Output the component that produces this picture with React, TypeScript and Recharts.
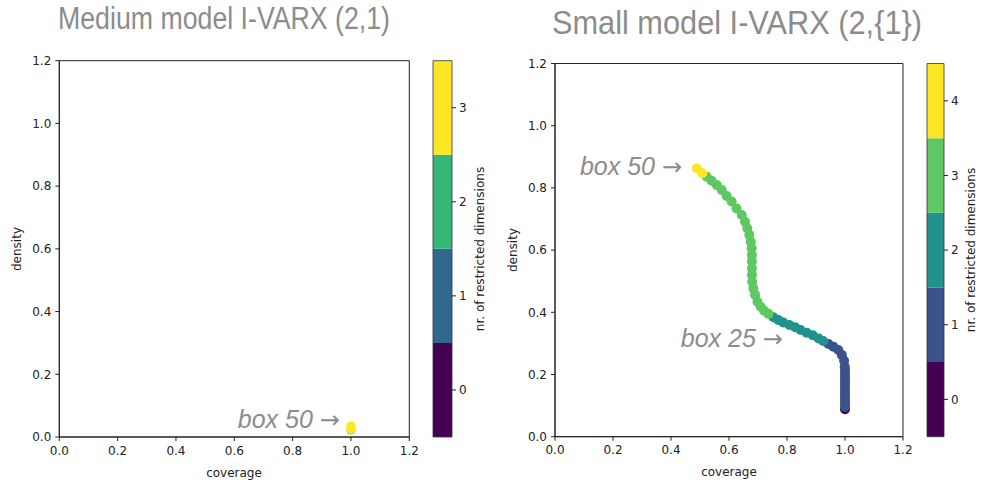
import React from 'react';
import { ScatterChart, Scatter, XAxis, YAxis, ReferenceArea, ReferenceDot } from 'recharts';

// ---- shared axis settings ----
const axisTicks = [0, 0.2, 0.4, 0.6, 0.8, 1.0, 1.2];

// ---- Medium model I-VARX (2,1): peeling trajectory ----
const mediumLevels = [0, 1, 2, 3];
const mediumColors = ['#440154', '#31688e', '#35b779', '#fde725'];
const mediumDims0: { coverage: number; density: number }[] = [];
const mediumDims1: { coverage: number; density: number }[] = [];
const mediumDims2 = [{ coverage: 1.0, density: 0.022 }];
const mediumDims3 = [
  { coverage: 1.0, density: 0.024 },
  { coverage: 1.0, density: 0.028 },
  { coverage: 1.0, density: 0.032 },
  { coverage: 1.0, density: 0.036 },
];

// ---- Small model I-VARX (2,{1}): peeling trajectory ----
const smallLevels = [0, 1, 2, 3, 4];
const smallColors = ['#440154', '#3b528b', '#21918c', '#5ec962', '#fde725'];
const smallDims0 = [{ coverage: 1.0, density: 0.088 }];
const smallDims1 = [
  { coverage: 1.0, density: 0.096 },
  { coverage: 1.0, density: 0.107 },
  { coverage: 1.0, density: 0.118 },
  { coverage: 1.0, density: 0.129 },
  { coverage: 1.0, density: 0.14 },
  { coverage: 1.0, density: 0.15 },
  { coverage: 1.0, density: 0.161 },
  { coverage: 1.0, density: 0.172 },
  { coverage: 1.0, density: 0.182 },
  { coverage: 1.0, density: 0.193 },
  { coverage: 1.0, density: 0.204 },
  { coverage: 1.0, density: 0.215 },
  { coverage: 0.999, density: 0.225 },
  { coverage: 0.997, density: 0.244 },
  { coverage: 0.989, density: 0.263 },
  { coverage: 0.977, density: 0.279 },
  { coverage: 0.96, density: 0.289 },
  { coverage: 0.943, density: 0.298 },
];
const smallDims2 = [
  { coverage: 0.925, density: 0.308 },
  { coverage: 0.909, density: 0.316 },
  { coverage: 0.889, density: 0.326 },
  { coverage: 0.868, density: 0.334 },
  { coverage: 0.847, density: 0.343 },
  { coverage: 0.828, density: 0.352 },
  { coverage: 0.808, density: 0.359 },
  { coverage: 0.787, density: 0.367 },
  { coverage: 0.77, density: 0.375 },
  { coverage: 0.753, density: 0.384 },
];
const smallDims3 = [
  { coverage: 0.736, density: 0.395 },
  { coverage: 0.721, density: 0.405 },
  { coverage: 0.709, density: 0.418 },
  { coverage: 0.698, density: 0.434 },
  { coverage: 0.69, density: 0.456 },
  { coverage: 0.684, density: 0.477 },
  { coverage: 0.68, density: 0.498 },
  { coverage: 0.679, density: 0.52 },
  { coverage: 0.679, density: 0.541 },
  { coverage: 0.679, density: 0.563 },
  { coverage: 0.679, density: 0.584 },
  { coverage: 0.678, density: 0.606 },
  { coverage: 0.675, density: 0.627 },
  { coverage: 0.67, density: 0.649 },
  { coverage: 0.663, density: 0.67 },
  { coverage: 0.655, density: 0.691 },
  { coverage: 0.644, density: 0.713 },
  { coverage: 0.626, density: 0.734 },
  { coverage: 0.609, density: 0.756 },
  { coverage: 0.592, density: 0.774 },
  { coverage: 0.575, density: 0.793 },
  { coverage: 0.558, density: 0.809 },
  { coverage: 0.54, density: 0.823 },
  { coverage: 0.523, density: 0.836 },
];
const smallDims4 = [
  { coverage: 0.508, density: 0.847 },
  { coverage: 0.489, density: 0.863 },
];

// annotation anchors (arrow tips), in data units
const mediumNotes = [{ text: 'box 50', coverage: 0.962, density: 0.029 }];
const smallNotes = [
  { text: 'box 50', coverage: 0.438, density: 0.841 },
  { text: 'box 25', coverage: 0.786, density: 0.288 },
];

const W = 981;
const H = 482;
const tickFont = { fontSize: 12, fill: '#222', fontFamily: 'DejaVu Sans' };
const titleColor = '#8c8c8c';

type Pt = { coverage: number; density: number };

const dotShape = (r: number, color: string) => (p: any) =>
  <circle cx={p.cx} cy={p.cy} r={r} fill={color} />;

const noteShape = (text: string) => (p: any) => (
  <text
    x={p.cx}
    y={p.cy}
    textAnchor="end"
    fontFamily="Liberation Sans"
    fontSize={25}
    fill={titleColor}
  >
    <tspan fontStyle="italic">{text + ' '}</tspan>
    <tspan fontFamily="DejaVu Sans" fontSize={24}>→</tspan>
  </text>
);

function Panel({
  box,
  series,
  colors,
  notes,
  r,
}: {
  box: { x0: number; x1: number; y0: number; y1: number };
  series: Pt[][];
  colors: string[];
  notes: { text: string; coverage: number; density: number }[];
  r: number;
}) {
  return (
    <div style={{ position: 'absolute', left: 0, top: 0 }}>
      <ScatterChart
        width={W}
        height={H}
        margin={{ top: box.y0, right: W - box.x1, bottom: 0, left: 0 }}
      >
        <XAxis
          type="number"
          dataKey="coverage"
          domain={[0, 1.2]}
          ticks={axisTicks}
          interval={0}
          tickFormatter={(v: number) => v.toFixed(1)}
          height={H - box.y1}
          tickSize={4}
          tickMargin={5}
          tick={tickFont}
          stroke="#222"
          tickLine={{ stroke: '#222' }}
        />
        <YAxis
          type="number"
          dataKey="density"
          domain={[0, 1.2]}
          ticks={axisTicks}
          interval={0}
          tickFormatter={(v: number) => v.toFixed(1)}
          width={box.x0}
          tickSize={4}
          tickMargin={4}
          tick={tickFont}
          stroke="#222"
          tickLine={{ stroke: '#222' }}
        />
        <ReferenceArea x1={0} x2={1.2} y1={0} y2={1.2} fill="none" stroke="#222" strokeWidth={1} />
        {series.map((data, i) => (
          <Scatter
            key={i}
            data={data}
            fill={colors[i]}
            shape={dotShape(r, colors[i])}
            isAnimationActive={false}
          />
        ))}
        {notes.map((n, i) => (
          <ReferenceDot key={i} x={n.coverage} y={n.density} r={0} shape={noteShape(n.text)} />
        ))}
      </ScatterChart>
    </div>
  );
}

function ColorBar({
  box,
  levels,
  colors,
}: {
  box: { x0: number; x1: number; y0: number; y1: number };
  levels: number[];
  colors: string[];
}) {
  const lo = levels[0] - 0.5;
  const hi = levels[levels.length - 1] + 0.5;
  const anchors = levels.map((lv) => ({ x: 0.5, level: lv }));
  return (
    <div style={{ position: 'absolute', left: 0, top: 0 }}>
      <ScatterChart
        width={W}
        height={H}
        margin={{ top: box.y0, right: 0, bottom: H - box.y1, left: box.x0 }}
      >
        <XAxis type="number" dataKey="x" domain={[0, 1]} hide />
        <YAxis
          type="number"
          dataKey="level"
          orientation="right"
          domain={[lo, hi]}
          ticks={levels}
          interval={0}
          width={W - box.x1}
          axisLine={false}
          tickSize={4}
          tickMargin={3}
          tick={tickFont}
          tickLine={{ stroke: '#222' }}
        />
        {levels.map((lv, i) => (
          <ReferenceArea
            key={lv}
            x1={0}
            x2={1}
            y1={lv - 0.5}
            y2={lv + 0.5}
            fill={colors[i]}
            fillOpacity={1}
            stroke="none"
          />
        ))}
        <ReferenceArea x1={0} x2={1} y1={lo} y2={hi} fill="none" stroke="#333" strokeWidth={0.8} />
        <Scatter data={anchors} shape={() => <g />} isAnimationActive={false} />
      </ScatterChart>
    </div>
  );
}

const labelStyle = { fontFamily: 'DejaVu Sans', fontSize: 12, fill: '#222' };

export default function App() {
  const leftBox = { x0: 59.3, x1: 409.3, y0: 60.7, y1: 437 };
  const rightBox = { x0: 555, x1: 903, y0: 63.5, y1: 436.7 };
  return (
    <div style={{ position: 'absolute', left: 0, top: 0, width: W, height: H, background: '#fff' }}>
      <Panel
        box={leftBox}
        series={[mediumDims0, mediumDims1, mediumDims2, mediumDims3]}
        colors={mediumColors}
        notes={mediumNotes}
        r={4.5}
      />
      <ColorBar box={{ x0: 433, x1: 452, y0: 60.7, y1: 437 }} levels={mediumLevels} colors={mediumColors} />
      <Panel
        box={rightBox}
        series={[smallDims0, smallDims1, smallDims2, smallDims3, smallDims4]}
        colors={smallColors}
        notes={smallNotes}
        r={5}
      />
      <ColorBar box={{ x0: 927, x1: 944, y0: 63.5, y1: 436.7 }} levels={smallLevels} colors={smallColors} />
      <svg
        width={W}
        height={H}
        style={{ position: 'absolute', left: 0, top: 0, pointerEvents: 'none' }}
      >
        <text
          x={58}
          y={29}
          fontFamily="Liberation Sans Narrow, Liberation Sans"
          fontSize={31}
          textLength={332}
          lengthAdjust="spacingAndGlyphs"
          fill={titleColor}
        >
          {'Medium model I-VARX (2,1)'}
        </text>
        <text
          x={552}
          y={34}
          fontFamily="Liberation Sans Narrow, Liberation Sans"
          fontSize={33}
          textLength={370}
          lengthAdjust="spacingAndGlyphs"
          fill={titleColor}
        >
          {'Small model I-VARX (2,{1})'}
        </text>
        <text x={234} y={473} textAnchor="middle" dominantBaseline="central" {...labelStyle}>
          coverage
        </text>
        <text x={729} y={472} textAnchor="middle" dominantBaseline="central" {...labelStyle}>
          coverage
        </text>
        <text
          transform="translate(17,249) rotate(-90)"
          textAnchor="middle"
          dominantBaseline="central"
          {...labelStyle}
        >
          density
        </text>
        <text
          transform="translate(513,250) rotate(-90)"
          textAnchor="middle"
          dominantBaseline="central"
          {...labelStyle}
        >
          density
        </text>
        <text
          transform="translate(480,249) rotate(-90)"
          textAnchor="middle"
          dominantBaseline="central"
          {...labelStyle}
        >
          nr. of restricted dimensions
        </text>
        <text
          transform="translate(971,250) rotate(-90)"
          textAnchor="middle"
          dominantBaseline="central"
          {...labelStyle}
        >
          nr. of restricted dimensions
        </text>
      </svg>
    </div>
  );
}
